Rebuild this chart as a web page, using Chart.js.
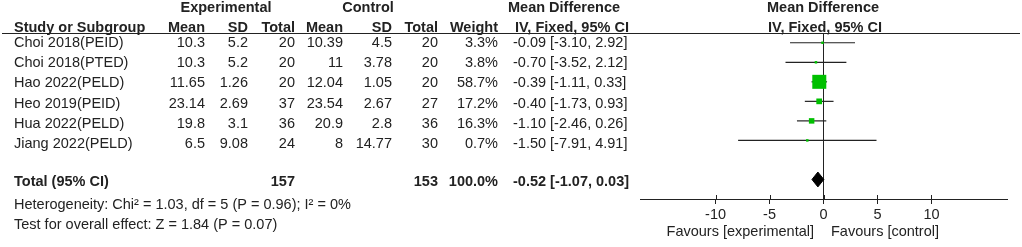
<!DOCTYPE html>
<html>
<head>
<meta charset="utf-8">
<script src="https://cdn.jsdelivr.net/npm/chart.js@4.4.0/dist/chart.umd.min.js"></script>
<style>
  html, body { margin: 0; padding: 0; background: #fff; }
  #forest { display: block; }
</style>
</head>
<body>
<canvas id="forest" width="1022" height="247"></canvas>
<script>
// data
var studies = ['Choi 2018(PEID)', 'Choi 2018(PTED)', 'Hao 2022(PELD)', 'Heo 2019(PEID)', 'Hua 2022(PELD)', 'Jiang 2022(PELD)'];
var expMean = [10.3, 10.3, 11.65, 23.14, 19.8, 6.5];
var expSD = [5.2, 5.2, 1.26, 2.69, 3.1, 9.08];
var expN = [20, 20, 20, 37, 36, 24];
var ctlMean = [10.39, 11, 12.04, 23.54, 20.9, 8];
var ctlSD = [4.5, 3.78, 1.05, 2.67, 2.8, 14.77];
var ctlN = [20, 20, 20, 27, 36, 30];
var weights = [3.3, 3.8, 58.7, 17.2, 16.3, 0.7];
var meanDiff = [-0.09, -0.70, -0.39, -0.40, -1.10, -1.50];
var ciLow = [-3.10, -3.52, -1.11, -1.73, -2.46, -7.91];
var ciHigh = [2.92, 2.12, 0.33, 0.93, 0.26, 4.91];
var totalMD = [-0.52, -1.07, 0.03]; // estimate, low, high
var totalN = [157, 153];
var xTicks = [-10, -5, 0, 5, 10];

var fontFamily = '"Liberation Sans", Arial, sans-serif';
var textColor = '#222';
var green = '#00c000';
var totalRow = studies.length + 1;

function fmtCI(m, l, h) {
    return m.toFixed(2) + ' [' + l.toFixed(2) + ', ' + h.toFixed(2) + ']';
}

// squares, area grows with the weight
var squares = {
    data: meanDiff.map(function(v, i) { return { x: v, y: i }; }),
    pointStyle: 'rect',
    pointRadius: weights.map(function(w) { return Math.max(2.5, 14 * Math.pow(w / 58.7, 0.73)) / Math.SQRT2; }),
    backgroundColor: green,
    borderWidth: 0,
    showLine: false
};

// one line per confidence interval
var ciLines = studies.map(function(s, i) {
    return {
        data: [{ x: ciLow[i], y: i }, { x: ciHigh[i], y: i }],
        showLine: true,
        borderColor: '#222',
        borderWidth: 1.2,
        pointRadius: 0
    };
});

var diamond = {
    data: [
        { x: totalMD[1], y: totalRow },
        { x: totalMD[0], y: totalRow - 0.38 },
        { x: totalMD[2], y: totalRow },
        { x: totalMD[0], y: totalRow + 0.38 },
        { x: totalMD[1], y: totalRow }
    ],
    showLine: true,
    fill: 'shape',
    backgroundColor: '#000',
    borderColor: '#000',
    borderWidth: 1,
    pointRadius: 0,
    tension: 0
};

var tablePlugin = {
    id: 'table',
    afterDraw: function(chart) {
        var ctx = chart.ctx, y = chart.scales.y, x = chart.scales.x, area = chart.chartArea;
        ctx.save();
        ctx.fillStyle = textColor;
        ctx.textBaseline = 'middle';
        function txt(s, px, py, align, bold) {
            ctx.font = (bold ? 'bold ' : '') + '14.5px ' + fontFamily;
            ctx.textAlign = align || 'left';
            ctx.fillText(String(s), px, py);
        }
        // headers
        txt('Experimental', 226, 8, 'center', true);
        txt('Control', 368, 8, 'center', true);
        txt('Mean Difference', 508, 8, 'left', true);
        txt('Mean Difference', 823, 8, 'center', true);
        txt('Study or Subgroup', 14, 28, 'left', true);
        txt('Mean', 205, 28, 'right', true);
        txt('SD', 248, 28, 'right', true);
        txt('Total', 295, 28, 'right', true);
        txt('Mean', 343, 28, 'right', true);
        txt('SD', 392, 28, 'right', true);
        txt('Total', 438, 28, 'right', true);
        txt('Weight', 498, 28, 'right', true);
        txt('IV, Fixed, 95% CI', 515, 28, 'left', true);
        txt('IV, Fixed, 95% CI', 825, 28, 'center', true);

        ctx.strokeStyle = '#222';
        ctx.lineWidth = 1;
        ctx.beginPath();
        ctx.moveTo(2, area.top + 0.5);
        ctx.lineTo(1020, area.top + 0.5);
        ctx.stroke();

        // study rows
        for (var i = 0; i < studies.length; i++) {
            var py = y.getPixelForValue(i * 1.04);
            txt(studies[i], 14, py);
            txt(expMean[i], 205, py, 'right');
            txt(expSD[i], 248, py, 'right');
            txt(expN[i], 295, py, 'right');
            txt(ctlMean[i], 343, py, 'right');
            txt(ctlSD[i], 392, py, 'right');
            txt(ctlN[i], 438, py, 'right');
            txt(weights[i].toFixed(1) + '%', 498, py, 'right');
            txt(fmtCI(meanDiff[i], ciLow[i], ciHigh[i]), 513, py);
        }

        // total row
        var ty = y.getPixelForValue(totalRow * 1.02);
        var wSum = weights.reduce(function(a, b) { return a + b; }, 0);
        txt('Total (95% CI)', 14, ty, 'left', true);
        txt(totalN[0], 295, ty, 'right', true);
        txt(totalN[1], 438, ty, 'right', true);
        txt(wSum.toFixed(1) + '%', 498, ty, 'right', true);
        txt(fmtCI(totalMD[0], totalMD[1], totalMD[2]), 513, ty, 'left', true);
        txt('Heterogeneity: Chi\u00b2 = 1.03, df = 5 (P = 0.96); I\u00b2 = 0%', 14, 205);
        txt('Test for overall effect: Z = 1.84 (P = 0.07)', 14, 225);

        // tick marks reach a little above the axis
        ctx.strokeStyle = '#222';
        x.ticks.forEach(function(t) {
            var px = Math.round(x.getPixelForValue(t.value)) + 0.5;
            ctx.beginPath();
            ctx.moveTo(px, area.bottom - 4);
            ctx.lineTo(px, area.bottom);
            ctx.stroke();
        });

        txt('Favours [experimental]', 814, 232, 'right');
        txt('Favours [control]', 831, 232, 'left');
        ctx.restore();
    }
};

new Chart(document.getElementById('forest').getContext('2d'), {
    type: 'scatter',
    data: { datasets: [squares].concat(ciLines, [diamond]) },
    options: {
        responsive: false,
        animation: false,
        devicePixelRatio: 1,
        layout: { padding: { left: 640, right: 15, top: 33, bottom: 0 } },
        plugins: { legend: { display: false }, tooltip: { enabled: false } },
        events: [],
        scales: {
            x: {
                type: 'linear',
                min: -17,
                max: 17,
                afterBuildTicks: function(s) {
                    s.ticks = xTicks.map(function(v) { return { value: v }; });
                },
                afterFit: function(s) { s.height = 48; },
                grid: {
                    color: function(c) { return c.tick && c.tick.value === 0 ? '#222' : 'rgba(0,0,0,0)'; },
                    tickColor: '#222',
                    tickLength: 5,
                    lineWidth: 1
                },
                border: { display: true, color: '#222', width: 1 },
                ticks: {
                    color: textColor,
                    font: { family: fontFamily, size: 14.5 },
                    padding: 2,
                    maxRotation: 0,
                    autoSkip: false
                }
            },
            y: {
                type: 'linear',
                reverse: true,
                min: -0.5,
                max: 8,
                display: false
            }
        }
    },
    plugins: [tablePlugin]
});
</script>
</body>
</html>
